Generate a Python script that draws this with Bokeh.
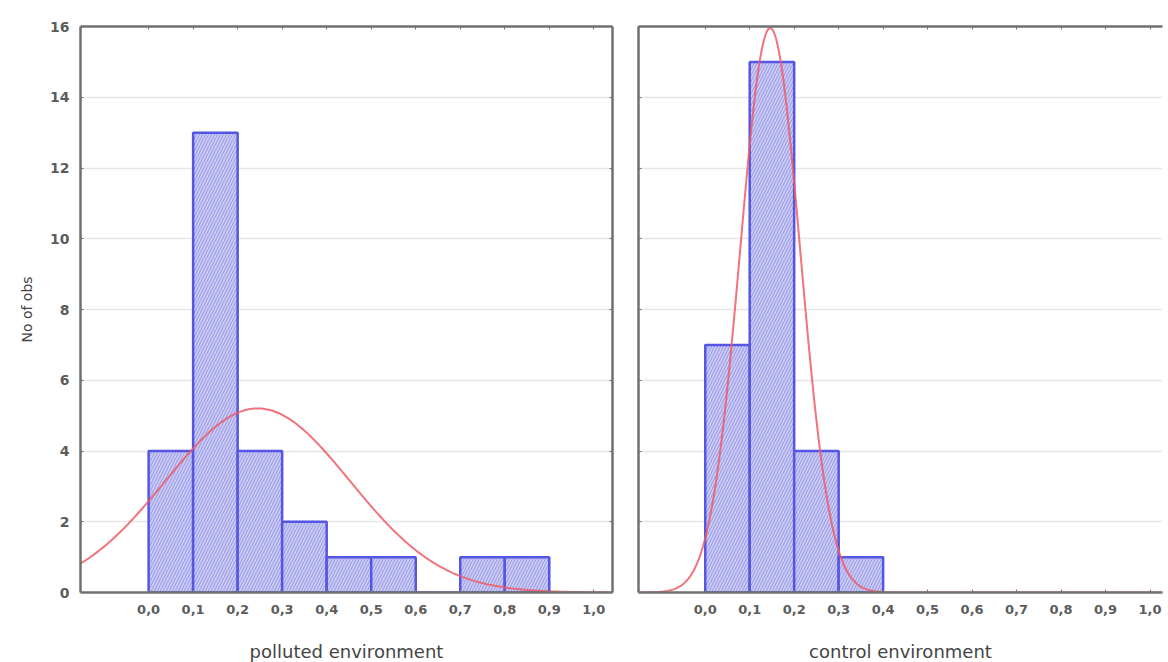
import numpy as np
from bokeh.plotting import figure
from bokeh.layouts import row
from bokeh.models import FixedTicker, LinearAxis, Range1d, ColumnDataSource, Title
from bokeh.embed import file_html
from bokeh.resources import INLINE

# ---- data ----
bin_left = [0.0, 0.1, 0.2, 0.3, 0.4, 0.5, 0.6, 0.7, 0.8]
polluted_counts = [4, 13, 4, 2, 1, 1, 0, 1, 1]
control_left = [0.0, 0.1, 0.2, 0.3]
control_counts = [7, 15, 4, 1]
bin_width = 0.1
# fitted normal parameters
polluted_mean, polluted_sd = 0.245, 0.207
control_mean, control_sd = 0.146, 0.0675
x_ticks = [0.0, 0.1, 0.2, 0.3, 0.4, 0.5, 0.6, 0.7, 0.8, 0.9, 1.0]
x_tick_labels = ["0,0", "0,1", "0,2", "0,3", "0,4", "0,5", "0,6", "0,7", "0,8", "0,9", "1,0"]
y_ticks = [0, 2, 4, 6, 8, 10, 12, 14, 16]

FONT = "DejaVu Sans"
TICK_COLOR = "#5c5c5c"
FRAME = "#707070"
BAR_FILL = "#c8c8f4"
BAR_LINE = "#5555e6"
HATCH = "#9c9ce6"
CURVE = "#f05a64"


def normal_curve(mean, sd, n, x0, x1):
    xs = np.linspace(x0, x1, 400)
    ys = n * bin_width / (sd * np.sqrt(2 * np.pi)) * np.exp(-0.5 * ((xs - mean) / sd) ** 2)
    return xs, ys


def border_axis(ticks):
    a = LinearAxis(ticker=FixedTicker(ticks=ticks))
    a.axis_line_color = FRAME
    a.axis_line_width = 2.5
    a.major_tick_line_color = FRAME
    a.major_tick_in = 3
    a.major_tick_out = 0
    a.minor_tick_line_color = None
    return a


def hide_labels(a):
    a.major_label_text_font_size = "0px"
    a.major_label_text_color = None
    a.major_label_standoff = 0


def make_panel(lefts, counts, mean, sd, xlab, x_range, frame_width, show_y, right_border,
               min_left, min_right):
    p = figure(width=10, height=10, frame_width=frame_width, frame_height=566,
               x_range=Range1d(*x_range), y_range=Range1d(0, 16),
               output_backend="svg", toolbar_location=None,
               x_axis_location=None, y_axis_location=None,
               min_border_left=min_left, min_border_right=min_right,
               min_border_top=26, min_border_bottom=70)
    p.outline_line_color = None
    p.background_fill_color = "white"
    p.border_fill_color = "white"

    # bottom axis
    xa = border_axis(x_ticks)
    xa.major_label_overrides = {t: l for t, l in zip(x_ticks, x_tick_labels)}
    xa.axis_label = xlab
    xa.axis_label_text_font = FONT
    xa.axis_label_text_font_style = "normal"
    xa.axis_label_text_font_size = "18px"
    xa.axis_label_text_color = "#444444"
    xa.axis_label_standoff = 24
    xa.major_label_text_font = FONT
    xa.major_label_text_font_style = "bold"
    xa.major_label_text_font_size = "13px"
    xa.major_label_text_color = TICK_COLOR
    xa.major_label_standoff = 12
    p.add_layout(xa, "below")

    # top border
    ta = border_axis(x_ticks)
    hide_labels(ta)
    p.add_layout(ta, "above")

    # left axis
    ya = border_axis(y_ticks)
    if show_y:
        ya.major_label_text_font = FONT
        ya.major_label_text_font_style = "bold"
        ya.major_label_text_font_size = "14px"
        ya.major_label_text_color = TICK_COLOR
        ya.major_label_standoff = 11
    else:
        hide_labels(ya)
    p.add_layout(ya, "left")
    if show_y:
        t = Title(text="No of obs", align="center",
                  text_font=FONT, text_font_style="normal",
                  text_font_size="14px", text_color="#444444", standoff=25)
        p.add_layout(t, "left")

    if right_border:
        ra = border_axis(y_ticks)
        hide_labels(ra)
        p.add_layout(ra, "right")

    p.xgrid.grid_line_color = None
    p.ygrid.ticker = FixedTicker(ticks=[2, 4, 6, 8, 10, 12, 14])
    p.ygrid.grid_line_color = "#e6e6e6"
    p.ygrid.grid_line_width = 1.5

    src = ColumnDataSource(dict(left=lefts,
                                right=[l + bin_width for l in lefts],
                                top=counts))
    p.quad(left="left", right="right", top="top", bottom=0, source=src,
           fill_color=BAR_FILL, line_color=BAR_LINE, line_width=2.5,
           hatch_pattern="/", hatch_color=HATCH, hatch_scale=6, hatch_weight=1)

    xs, ys = normal_curve(mean, sd, sum(counts), x_range[0], x_range[1])
    p.line(xs, ys, line_color=CURVE, line_width=2, line_alpha=0.85)
    return p


left = make_panel(bin_left, polluted_counts, polluted_mean, polluted_sd,
                  "polluted environment", (-0.153, 1.042), 532, True, True, 80, 12)
right = make_panel(control_left, control_counts, control_mean, control_sd,
                   "control environment", (-0.150, 1.028), 524, False, False, 14, 2)

layout = row(left, right)
open("out.html", "w").write(file_html(layout, INLINE))
